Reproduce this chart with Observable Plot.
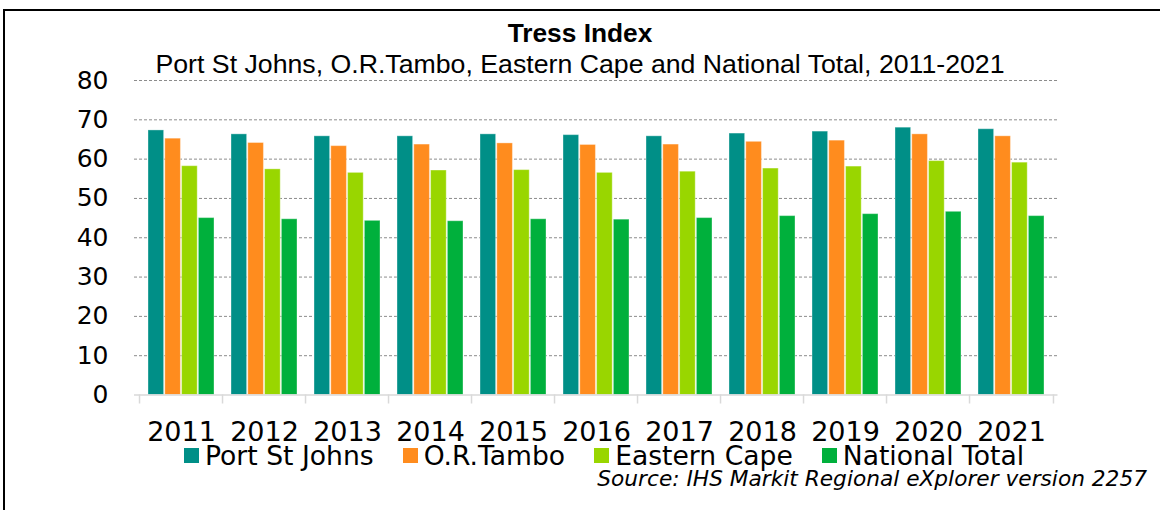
<!DOCTYPE html>
<html><head><meta charset="utf-8">
<script src="https://cdn.jsdelivr.net/npm/d3@7"></script>
<script src="https://cdn.jsdelivr.net/npm/@observablehq/plot@0.6"></script>
<style>
body{margin:0;width:1160px;height:510px;overflow:hidden;background:#fff;position:relative;}
#frame{position:absolute;left:3px;top:9px;width:1300px;height:700px;border-left:2px solid #000;border-top:2px solid #000;}
#title{position:absolute;left:0;width:1160px;top:19.5px;text-align:center;font:bold 26.3px "Liberation Sans",Arial,sans-serif;line-height:26px;color:#000;}
#subtitle{position:absolute;left:0;width:1160px;top:51px;text-align:center;font:26.7px "Liberation Sans",Arial,sans-serif;line-height:26px;color:#000;}
#chart{position:absolute;left:0;top:0;}
#legend{position:absolute;left:184px;top:442.5px;display:flex;align-items:center;font:26.6px "DejaVu Sans",Verdana,sans-serif;line-height:25px;color:#000;}
#legend .item{display:flex;align-items:center;margin-right:29px;}
#legend .sw{width:15px;height:15px;margin-right:6px;}
#source{position:absolute;right:13px;top:468px;font:italic 21.7px "DejaVu Sans",Verdana,sans-serif;line-height:21.5px;color:#000;}
</style></head><body>
<div id="frame"></div>
<div id="title">Tress Index</div>
<div id="subtitle">Port St Johns, O.R.Tambo, Eastern Cape and National Total, 2011-2021</div>
<div id="chart"></div>
<div id="legend"></div>
<div id="source">Source: IHS Markit Regional eXplorer version 2257</div>
<script>
const years = ["2011","2012","2013","2014","2015","2016","2017","2018","2019","2020","2021"];
const series = ["Port St Johns","O.R.Tambo","Eastern Cape","National Total"];
const portStJohns   = [67.3,66.3,65.8,65.8,66.3,66.1,65.8,66.5,67.0,68.0,67.6];
const orTambo       = [65.2,64.1,63.3,63.7,64.0,63.6,63.7,64.4,64.7,66.3,65.8];
const easternCape   = [58.2,57.4,56.5,57.1,57.2,56.5,56.8,57.6,58.1,59.5,59.1];
const nationalTotal = [45.0,44.7,44.3,44.2,44.7,44.6,45.0,45.5,46.0,46.6,45.5];
const colors = ["#008F87","#FF8C1E","#99D600","#00B03C"];
const yTicks = [0,10,20,30,40,50,60,70,80];

const values = [portStJohns, orTambo, easternCape, nationalTotal];
const rows = [];
series.forEach((s, si) => years.forEach((y, yi) => rows.push({year: y, series: s, value: values[si][yi]})));

const W = 1160, H = 445, mL = 134, mR = 102.5, mT = 80, mB = 50.5;
const xOpts = {type: "band", domain: years, range: [mL, W - mR], paddingInner: 0.2, paddingOuter: 0.1};
const xs = Plot.scale({x: xOpts});
const bw = xs.bandwidth;
const step = xs.step !== undefined ? xs.step : bw / 0.8;
const sub = bw / series.length;

const marks = [
  Plot.ruleY(yTicks.filter(v => v > 0), {stroke: "#8c8c8c", strokeDasharray: "3,2", strokeWidth: 1}),
  ...series.map((s, i) => Plot.barY(rows.filter(r => r.series === s), {
    x: "year", y: "value", fill: colors[i],
    stroke: "#fff", strokeOpacity: 0.35, strokeWidth: 1,
    insetLeft: i * sub, insetRight: (series.length - 1 - i) * sub
  })),
  Plot.ruleY([0], {stroke: "#d9d9d9", strokeWidth: 1.5}),
  Plot.ruleX(years, {x: d => d, y1: 0, y2: 0, dx: -step / 2, insetBottom: -9, stroke: "#d9d9d9", strokeWidth: 1.5}),
  Plot.ruleX(years.slice(-1), {x: d => d, y1: 0, y2: 0, dx: step / 2, insetBottom: -9, stroke: "#d9d9d9", strokeWidth: 1.5}),
  Plot.axisY(yTicks, {tickSize: 0, tickPadding: 26, fontSize: 25, fill: "#000", label: null}),
  Plot.axisX({tickSize: 0, tickPadding: 27, fontSize: 27, fill: "#000", label: null})
];

const chart = Plot.plot({
  width: W, height: H,
  marginLeft: mL, marginRight: mR, marginTop: mT, marginBottom: mB,
  style: {fontFamily: "DejaVu Sans, Verdana, sans-serif", background: "transparent", overflow: "visible"},
  x: {domain: years, paddingInner: 0.2, paddingOuter: 0.1, label: null},
  y: {domain: [0, 80], label: null},
  marks
});
document.getElementById("chart").appendChild(chart);

const legend = document.getElementById("legend");
series.forEach((s, i) => {
  const it = document.createElement("div"); it.className = "item";
  const sw = document.createElement("div"); sw.className = "sw"; sw.style.background = colors[i];
  const tx = document.createElement("span"); tx.textContent = s;
  it.appendChild(sw); it.appendChild(tx); legend.appendChild(it);
});
</script>
</body></html>
